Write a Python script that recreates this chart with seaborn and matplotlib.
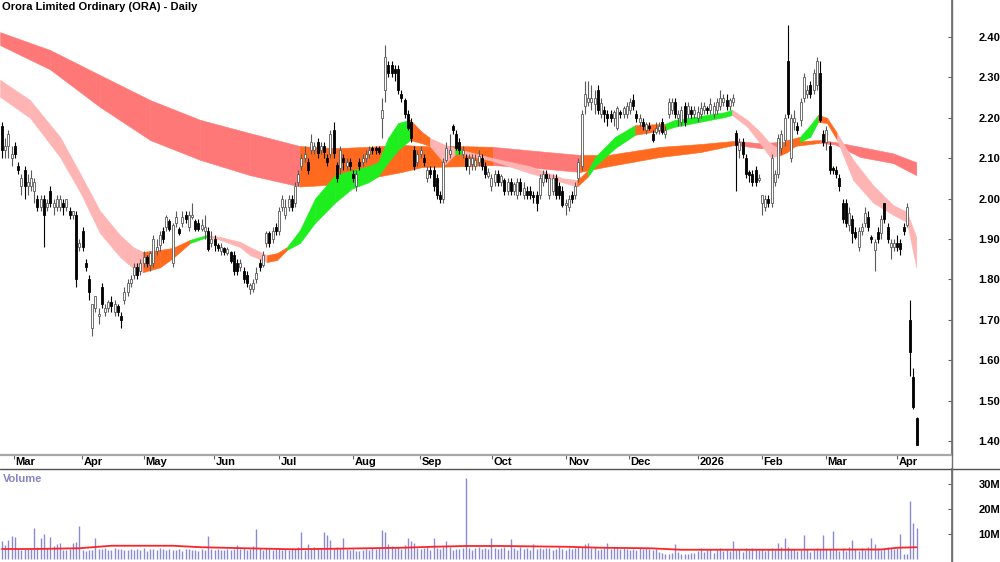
import numpy as np
import matplotlib
matplotlib.use("Agg")
import matplotlib.pyplot as plt
from matplotlib.lines import Line2D
import seaborn as sns

sns.set_theme(style="white")
plt.rcParams['font.family'] = ['Liberation Sans', 'DejaVu Sans']

title = "Orora Limited Ordinary (ORA) - Daily"

# ---------------- daily OHLC (A$) ----------------
opens = [2.18,2.12,2.13,2.10,2.13,2.08,2.03,2.07,2.03,2.03,
         2.02,2.00,1.98,2.00,1.98,2.02,1.98,1.98,1.98,1.99,
         1.98,1.97,1.96,1.96,1.88,1.92,1.84,1.80,1.68,1.73,
         1.71,1.78,1.72,1.73,1.745,1.72,1.735,1.71,1.75,1.77,
         1.79,1.81,1.83,1.82,1.84,1.855,1.835,1.84,1.87,1.885,
         1.92,1.93,1.945,1.84,1.94,1.925,1.94,1.96,1.93,1.955,
         1.945,1.94,1.925,1.92,1.92,1.89,1.90,1.885,1.87,1.877,
         1.865,1.868,1.86,1.84,1.83,1.82,1.81,1.775,1.775,1.80,
         1.84,1.835,1.89,1.915,1.90,1.93,1.92,1.98,1.96,1.98,
         2.00,1.99,2.04,2.08,2.10,2.09,2.12,2.12,2.14,2.12,
         2.13,2.10,2.11,2.17,2.083,2.075,2.10,2.08,2.09,2.06,
         2.03,2.09,2.09,2.10,2.11,2.125,2.125,2.125,2.20,2.27,
         2.33,2.33,2.32,2.32,2.26,2.244,2.21,2.19,2.12,2.09,
         2.11,2.10,2.05,2.07,2.07,2.05,2.01,2.00,2.095,2.11,
         2.18,2.16,2.14,2.11,2.10,2.08,2.085,2.08,2.09,2.10,
         2.08,2.055,2.03,2.04,2.06,2.04,2.046,2.02,2.04,2.02,
         2.01,2.04,2.01,2.02,2.02,2.01,2.01,2.01,2.04,2.06,
         2.01,2.02,2.05,2.03,2.02,1.985,1.98,2.01,2.01,2.05,
         2.08,2.23,2.24,2.24,2.235,2.27,2.21,2.22,2.21,2.21,
         2.20,2.175,2.215,2.21,2.21,2.22,2.244,2.21,2.19,2.19,
         2.17,2.18,2.16,2.165,2.17,2.19,2.16,2.21,2.22,2.24,
         2.20,2.19,2.23,2.21,2.22,2.21,2.20,2.21,2.22,2.225,
         2.22,2.21,2.22,2.23,2.24,2.244,2.23,2.24,2.163,2.12,
         2.14,2.10,2.065,2.06,2.07,2.045,1.99,1.98,2.00,1.99,
         2.04,2.06,2.125,2.145,2.34,2.10,2.19,2.18,2.195,2.25,
         2.26,2.28,2.27,2.28,2.31,2.16,2.14,2.13,2.075,2.07,
         2.05,1.99,1.99,1.935,1.95,1.917,1.88,1.92,1.94,1.955,
         1.905,1.873,1.917,1.915,1.99,1.93,1.88,1.88,1.89,1.89,
         1.93,1.935,1.70,1.558,1.457]
highs = [2.19,2.15,2.17,2.13,2.14,2.09,2.06,2.08,2.06,2.07,
         2.05,2.01,2.01,2.01,2.00,2.03,2.00,2.01,2.01,2.00,
         2.00,1.98,1.97,1.97,1.90,1.93,1.85,1.81,1.74,1.76,
         1.73,1.79,1.74,1.75,1.76,1.75,1.74,1.72,1.78,1.80,
         1.81,1.84,1.84,1.85,1.87,1.86,1.87,1.91,1.90,1.92,
         1.93,1.96,1.95,1.94,1.97,1.93,1.97,1.97,1.97,1.99,
         1.95,1.95,1.95,1.96,1.93,1.92,1.91,1.89,1.89,1.88,
         1.88,1.87,1.87,1.85,1.85,1.83,1.82,1.79,1.80,1.83,
         1.85,1.87,1.92,1.92,1.93,1.94,1.98,2.01,2.00,2.01,
         2.01,2.04,2.07,2.11,2.13,2.10,2.16,2.14,2.15,2.14,
         2.14,2.11,2.17,2.19,2.09,2.13,2.11,2.10,2.10,2.07,
         2.07,2.10,2.11,2.12,2.13,2.13,2.13,2.13,2.25,2.38,
         2.34,2.34,2.33,2.33,2.27,2.25,2.22,2.20,2.13,2.12,
         2.13,2.11,2.08,2.08,2.08,2.06,2.02,2.10,2.14,2.16,
         2.185,2.17,2.15,2.13,2.11,2.11,2.11,2.11,2.12,2.11,
         2.09,2.075,2.06,2.07,2.07,2.06,2.05,2.05,2.05,2.04,
         2.05,2.05,2.04,2.03,2.03,2.02,2.02,2.06,2.07,2.07,
         2.06,2.06,2.06,2.04,2.03,2.00,2.01,2.02,2.04,2.10,
         2.22,2.29,2.29,2.28,2.27,2.28,2.25,2.23,2.22,2.22,
         2.22,2.23,2.22,2.23,2.24,2.25,2.26,2.22,2.21,2.20,
         2.19,2.19,2.17,2.19,2.19,2.20,2.18,2.25,2.25,2.25,
         2.22,2.23,2.24,2.24,2.23,2.23,2.23,2.24,2.24,2.23,
         2.25,2.24,2.25,2.27,2.26,2.26,2.25,2.26,2.17,2.15,
         2.15,2.11,2.07,2.07,2.08,2.06,2.01,2.01,2.01,2.11,
         2.07,2.16,2.17,2.21,2.43,2.21,2.22,2.19,2.25,2.31,
         2.28,2.29,2.32,2.35,2.34,2.17,2.18,2.14,2.08,2.08,
         2.06,2.00,2.00,1.98,1.96,1.93,1.93,1.94,1.98,1.97,
         1.91,1.90,1.93,1.96,1.99,1.94,1.90,1.90,1.91,1.90,
         1.94,1.99,1.75,1.58,1.46]
lows = [2.10,2.10,2.10,2.08,2.10,2.06,2.01,2.00,2.01,2.02,
        1.99,1.97,1.97,1.88,1.97,1.98,1.96,1.97,1.97,1.96,
        1.97,1.95,1.95,1.78,1.87,1.87,1.82,1.75,1.66,1.72,
        1.69,1.73,1.71,1.72,1.72,1.71,1.71,1.68,1.74,1.76,
        1.78,1.80,1.80,1.81,1.83,1.83,1.82,1.83,1.86,1.87,
        1.89,1.92,1.92,1.83,1.93,1.91,1.93,1.94,1.92,1.95,
        1.92,1.92,1.92,1.90,1.87,1.88,1.87,1.87,1.86,1.86,
        1.86,1.84,1.81,1.81,1.82,1.79,1.78,1.765,1.77,1.79,
        1.82,1.83,1.88,1.88,1.89,1.91,1.91,1.97,1.95,1.97,
        1.97,1.98,2.03,2.07,2.09,2.06,2.11,2.11,2.10,2.11,
        2.10,2.08,2.10,2.10,2.04,2.06,2.07,2.07,2.07,2.04,
        2.02,2.07,2.08,2.09,2.10,2.11,2.11,2.11,2.15,2.24,
        2.30,2.30,2.29,2.26,2.24,2.20,2.17,2.14,2.07,2.08,
        2.10,2.08,2.04,2.05,2.02,2.00,1.99,1.99,2.09,2.10,
        2.16,2.12,2.11,2.10,2.07,2.06,2.07,2.07,2.08,2.07,
        2.05,2.05,2.02,2.03,2.03,2.03,2.01,2.01,2.01,2.01,
        2.00,2.01,2.00,2.00,2.00,1.99,1.97,2.00,2.03,2.04,
        2.00,2.01,2.00,2.00,1.98,1.96,1.97,1.99,2.00,2.04,
        2.07,2.21,2.23,2.22,2.21,2.21,2.20,2.19,2.18,2.19,
        2.18,2.17,2.20,2.20,2.20,2.21,2.22,2.19,2.18,2.17,
        2.16,2.17,2.14,2.16,2.16,2.16,2.15,2.20,2.21,2.20,
        2.18,2.18,2.18,2.20,2.20,2.20,2.19,2.20,2.21,2.21,
        2.21,2.20,2.21,2.22,2.23,2.22,2.22,2.23,2.02,2.10,
        2.10,2.05,2.04,2.03,2.03,2.04,1.96,1.97,1.98,1.98,
        2.03,2.05,2.11,2.13,2.20,2.09,2.17,2.16,2.18,2.24,
        2.25,2.25,2.26,2.27,2.19,2.13,2.12,2.06,2.06,2.05,
        2.02,1.94,1.93,1.92,1.89,1.90,1.87,1.91,1.93,1.92,
        1.89,1.82,1.89,1.90,1.94,1.89,1.85,1.87,1.87,1.86,
        1.91,1.93,1.56,1.48,1.39]
closes = [2.12,2.13,2.16,2.11,2.11,2.07,2.05,2.03,2.04,2.05,
          2.04,1.98,2.00,1.96,1.99,1.99,1.99,2.00,2.00,1.98,
          2.00,1.96,1.97,1.80,1.89,1.88,1.83,1.77,1.74,1.76,
          1.71,1.74,1.73,1.745,1.735,1.74,1.72,1.70,1.77,1.79,
          1.80,1.83,1.81,1.84,1.855,1.84,1.865,1.90,1.88,1.91,
          1.90,1.955,1.925,1.935,1.955,1.915,1.955,1.95,1.96,1.96,
          1.925,1.925,1.935,1.93,1.875,1.90,1.885,1.878,1.88,1.868,
          1.875,1.845,1.82,1.82,1.84,1.80,1.79,1.785,1.79,1.815,
          1.83,1.86,1.915,1.89,1.92,1.92,1.97,2.00,1.98,2.00,
          1.98,2.03,2.06,2.10,2.11,2.07,2.14,2.13,2.113,2.13,
          2.115,2.09,2.16,2.113,2.05,2.12,2.09,2.09,2.08,2.05,
          2.06,2.08,2.10,2.11,2.12,2.12,2.12,2.115,2.22,2.35,
          2.31,2.31,2.31,2.27,2.25,2.21,2.175,2.15,2.08,2.11,
          2.12,2.09,2.07,2.06,2.03,2.01,2.00,2.09,2.125,2.12,
          2.17,2.125,2.12,2.12,2.08,2.10,2.10,2.095,2.105,2.08,
          2.06,2.065,2.05,2.06,2.04,2.055,2.02,2.04,2.02,2.035,
          2.04,2.02,2.025,2.01,2.01,2.005,1.99,2.05,2.06,2.05,
          2.05,2.05,2.01,2.01,1.985,1.99,2.00,2.00,2.03,2.09,
          2.21,2.26,2.25,2.25,2.25,2.22,2.236,2.21,2.20,2.20,
          2.215,2.225,2.21,2.225,2.23,2.24,2.23,2.20,2.20,2.18,
          2.185,2.175,2.145,2.175,2.18,2.165,2.17,2.24,2.24,2.21,
          2.21,2.22,2.19,2.23,2.21,2.22,2.215,2.225,2.23,2.22,
          2.235,2.23,2.24,2.25,2.25,2.23,2.245,2.25,2.133,2.14,
          2.11,2.06,2.058,2.04,2.04,2.05,2.01,2.00,1.99,2.10,
          2.06,2.15,2.16,2.20,2.21,2.20,2.20,2.17,2.24,2.30,
          2.27,2.26,2.31,2.34,2.195,2.14,2.17,2.07,2.07,2.06,
          2.03,1.95,1.94,1.965,1.915,1.905,1.92,1.93,1.965,1.93,
          1.90,1.893,1.90,1.95,1.95,1.90,1.89,1.89,1.88,1.875,
          1.92,1.98,1.62,1.484,1.39]

# ---------------- daily volume (millions) ----------------
volume_m = [7.3,5.6,7.6,9.2,8.9,4.0,3.8,4.2,3.9,4.1,
            12.3,4.7,8.3,9.9,4.6,8.9,5.4,6.0,6.5,3.5,
            3.6,4.2,6.3,6.9,13.2,3.6,3.4,3.8,3.5,8.4,
            4.2,3.9,4.3,3.8,3.6,4.4,3.9,4.0,3.5,3.8,
            4.1,3.6,4.2,3.8,4.5,3.4,3.9,4.0,3.6,4.3,
            4.0,3.7,4.2,3.5,3.8,4.1,3.3,3.9,4.2,3.6,
            3.8,3.4,4.0,3.7,9.2,3.9,3.6,4.1,3.5,3.8,
            4.0,3.6,4.2,5.5,3.9,4.4,3.7,4.1,5.2,12.0,
            4.3,3.8,4.5,4.0,3.6,4.2,3.9,3.5,4.1,3.7,
            4.6,4.0,5.0,10.9,3.8,6.0,4.2,4.8,4.4,4.0,
            10.9,9.5,7.6,4.3,5.0,4.6,8.3,4.1,3.7,3.9,
            3.2,3.4,3.6,4.1,3.8,4.5,4.0,4.4,11.6,10.9,
            6.0,5.2,4.6,4.8,4.2,5.5,8.3,7.3,6.5,4.6,
            4.1,4.4,4.9,3.8,8.4,4.5,4.2,5.0,7.3,4.8,
            3.6,4.1,3.9,4.6,32.5,4.3,3.7,4.5,4.8,4.1,
            4.4,3.9,8.4,4.6,4.0,4.3,4.7,3.8,7.9,4.5,
            3.6,4.9,4.2,4.4,3.5,5.9,4.1,4.6,3.9,4.3,
            4.5,3.7,4.0,4.8,4.2,3.6,4.4,3.9,4.5,4.7,
            4.8,6.2,6.3,4.4,4.9,3.8,4.1,4.6,6.6,4.2,
            5.0,4.3,3.9,4.5,4.0,3.7,4.2,3.8,4.4,4.1,
            4.6,3.9,3.5,4.2,3.0,2.6,2.2,2.0,2.4,6.1,
            2.8,2.2,1.9,2.1,2.5,2.3,3.4,4.5,2.8,3.6,
            4.2,2.6,3.8,4.6,3.1,4.0,3.3,7.3,3.5,4.1,
            3.0,4.4,3.6,4.6,4.2,3.8,4.1,3.2,3.9,4.4,
            3.6,6.5,4.9,8.3,4.8,3.9,4.2,3.1,3.7,9.5,
            4.2,2.8,3.6,4.5,4.0,9.6,4.1,3.9,11.2,4.2,
            3.4,4.6,3.3,4.8,7.6,3.9,3.2,4.4,3.6,4.9,
            8.3,5.9,4.3,3.7,4.2,4.8,4.5,3.9,4.4,10.0,
            2.0,2.1,23.3,14.5,12.3]

# volume moving average (read at sample bars)
vol_ma_bar = [0, 10, 24, 34, 53, 62, 72, 90, 103, 124, 134, 144, 155, 175, 186, 201, 211, 240, 273, 278, 284]
vol_ma_m   = [4.0, 4.0, 4.3, 5.3, 5.3, 4.7, 4.4, 3.9, 4.1, 4.5, 4.9, 5.2, 5.2, 4.9, 4.5, 4.3, 3.7, 3.7, 3.8, 4.5, 4.7]

# ---------------- long-term MA ribbon (sample bars) ----------------
long_bar = [-0.6, 14.9, 30.4, 46, 61.5, 77, 92.5, 103.4, 113.7, 124.2, 130.4, 142.2, 152.5, 167, 179.5,
            188.2, 204.3, 216.8, 227.6, 235.4, 241, 247.8, 254, 258.7, 266.5, 276.7, 283.9]
long_top = [2.412, 2.368, 2.306, 2.244, 2.195, 2.162, 2.13, 2.125, 2.128, 2.133, 2.13, 2.13, 2.128, 2.117, 2.108,
            2.108, 2.128, 2.135, 2.143, 2.137, 2.14, 2.142, 2.145, 2.14, 2.128, 2.112, 2.09]
long_bot = [2.38, 2.32, 2.227, 2.145, 2.096, 2.058, 2.03, 2.035, 2.05, 2.066, 2.078, 2.08, 2.083, 2.075, 2.066,
            2.08, 2.103, 2.115, 2.133, 2.125, 2.125, 2.132, 2.138, 2.134, 2.103, 2.088, 2.058]
long_state = ["bear", "bear", "bear", "bear", "bear", "bear", "bull", "bull", "bull", "bull", "bull", "bull",
              "bear", "bear", "bull", "bull", "bull", "bull", "bear", "bear", "bull", "bull", "bear", "bear",
              "bear", "bear", "bear"]

# ---------------- short-term MA ribbon (sample bars) ----------------
short_bar = [-0.6, 8.7, 18, 24.2, 30.4, 36.6, 40.7, 43.8, 49.1, 53.1, 58.4, 63.7, 67.7, 73.9, 77, 82.3, 85.4,
             88.5, 92.5, 97.2, 103.4, 108.7, 113.7, 116.8, 119.9, 123, 126.7, 130.4, 132.9, 137.6, 140.7, 142.9,
             152.5, 164, 174.2, 178.6, 182, 184.2, 190.4, 196.6, 205.9, 209, 224.5, 226.7, 231.4, 235.4, 238.5,
             241, 243.8, 247.8, 251, 253.4, 256.2, 259.3, 264.3, 270.5, 276.7, 281, 283.9]
short_top = [2.294, 2.244, 2.153, 2.063, 1.97, 1.91, 1.88, 1.868, 1.873, 1.878, 1.898, 1.91, 1.905, 1.893, 1.88,
             1.86, 1.865, 1.88, 1.922, 2.0, 2.058, 2.07, 2.08, 2.09, 2.15, 2.187, 2.195, 2.165, 2.15, 2.133,
             2.125, 2.12, 2.10, 2.08, 2.05, 2.046, 2.07, 2.103, 2.153, 2.182, 2.185, 2.195, 2.214, 2.22, 2.195,
             2.165, 2.137, 2.125, 2.145, 2.153, 2.182, 2.207, 2.2, 2.162, 2.096, 2.033, 1.984, 1.967, 1.905]
short_bot = [2.252, 2.20, 2.103, 2.017, 1.915, 1.856, 1.828, 1.818, 1.83, 1.853, 1.89, 1.905, 1.898, 1.88, 1.86,
             1.843, 1.848, 1.873, 1.89, 1.94, 1.99, 2.025, 2.04, 2.055, 2.09, 2.12, 2.145, 2.137, 2.13, 2.085,
             2.11, 2.11, 2.093, 2.063, 2.04, 2.03, 2.055, 2.08, 2.125, 2.158, 2.17, 2.178, 2.202, 2.207, 2.178,
             2.137, 2.103, 2.105, 2.115, 2.14, 2.153, 2.19, 2.187, 2.145, 2.046, 1.99, 1.96, 1.942, 1.83]
short_state = ["bear", "bear", "bear", "bear", "bear", "bear", "bear", "mixed", "mixed", "mixed", "bull", "bear",
               "bear", "bear", "bear", "mixed", "mixed", "bull", "bull", "bull", "bull", "bull", "bull", "bull",
               "bull", "bull", "mixed", "mixed", "bear", "bear", "bull", "bear", "bear", "bear", "bear", "mixed",
               "bull", "bull", "bull", "mixed", "bull", "bull", "bull", "bear", "bear", "bear", "bear", "mixed",
               "mixed", "bull", "bull", "mixed", "mixed", "bear", "bear", "bear", "bear", "bear", "bear"]

month_labels = ["Mar", "Apr", "May", "Jun", "Jul", "Aug", "Sep", "Oct", "Nov", "Dec", "2026", "Feb", "Mar", "Apr"]
month_start_bar = [3.7, 24.8, 44.1, 65.8, 86, 109, 129.8, 152.2, 175.2, 194.7, 216.1, 236, 255.9, 278]

price_ticks = [1.40, 1.50, 1.60, 1.70, 1.80, 1.90, 2.00, 2.10, 2.20, 2.30, 2.40]
vol_ticks = [10, 20, 30]

# ---------------- styling ----------------
long_colors = {"bear": "#FF7878", "bull": "#FF6A1E"}
short_colors = {"bear": "#FFB4B4", "bull": "#1EEE1E", "mixed": "#FF6A1E"}
W, H = 1000, 562
x_left, x_right = -0.62, 295.0

fig = plt.figure(figsize=(W / 100, H / 100), dpi=100)
fig.patch.set_facecolor("white")
axp = fig.add_axes([0, (H - 455) / H, 952 / W, 455 / H])
axv = fig.add_axes([0, 0, 952 / W, (H - 469) / H])

O = np.array(opens); Hh = np.array(highs); Lw = np.array(lows); C = np.array(closes)
bars = np.arange(len(C))

def ribbon(ax, xs, tops, bots, states, cmap, z):
    for i in range(len(xs) - 1):
        col = cmap[states[i]]
        ax.fill_between([xs[i], xs[i + 1]], [bots[i], bots[i + 1]], [tops[i], tops[i + 1]],
                        facecolor=col, edgecolor=col, linewidth=0.4, zorder=z)

ribbon(axp, long_bar, long_top, long_bot, long_state, long_colors, 1)
ribbon(axp, short_bar, short_top, short_bot, short_state, short_colors, 2)

up = C >= O
edge = np.where(up, "#5A5A5A", "#000000")
axp.vlines(bars, Lw, Hh, colors=edge, linewidth=0.8, zorder=3)
axp.bar(bars, np.maximum(np.abs(C - O), 0.004), bottom=np.minimum(O, C), width=0.62,
        color=np.where(up, "white", "black"), edgecolor=edge, linewidth=0.6, zorder=4)

axp.set_xlim(x_left, x_right)
axp.set_ylim(1.3653, 2.4916)
axp.set_yticks(price_ticks)
axp.set_yticklabels([f"{v:.2f}" for v in price_ticks])
axp.yaxis.tick_right()
axp.tick_params(axis="y", direction="in", length=3, width=0.8, pad=19, labelsize=8, colors="#606060",
                labelcolor="black", right=True, left=False)
for t in axp.get_yticklabels():
    t.set_fontweight("bold")
axp.set_xticks(month_start_bar)
axp.set_xticklabels([])
axp.tick_params(axis="x", direction="out", length=3, width=0.8, colors="#606060", bottom=True)
for s in ["top", "left"]:
    axp.spines[s].set_visible(False)
axp.spines["right"].set_color("#707070")
axp.spines["bottom"].set_color("#A8A8A8")
axp.spines["bottom"].set_linewidth(1.6)
axp.set_facecolor("white")

for lab, pos in zip(month_labels, month_start_bar):
    axp.text(pos + 0.5, -0.0045, lab, transform=axp.get_xaxis_transform(), ha="left", va="top",
             fontsize=8, fontweight="bold", color="black")

# ---------------- volume ----------------
axv.vlines(bars, 0, volume_m, colors="#8A8AD2", linewidth=1.0, zorder=2)
sns.lineplot(x=vol_ma_bar, y=vol_ma_m, ax=axv, color="#FF2424", linewidth=1.3, zorder=3)
axv.set_xlim(x_left, x_right)
axv.set_ylim(-1.2, 36)
axv.set_yticks(vol_ticks)
axv.set_yticklabels([f"{v}M" for v in vol_ticks])
axv.yaxis.tick_right()
axv.tick_params(axis="y", direction="in", length=3, width=0.8, pad=19, labelsize=8, colors="#606060",
                labelcolor="black", right=True, left=False)
for t in axv.get_yticklabels():
    t.set_fontweight("bold")
axv.set_xticks([])
for s in ["top", "left", "bottom"]:
    axv.spines[s].set_visible(False)
axv.spines["right"].set_color("#707070")
axv.set_xlabel(""); axv.set_ylabel("")
axv.text(0.003, 0.95, "Volume", transform=axv.transAxes, ha="left", va="top", fontsize=8,
         fontweight="bold", color="#8585C5")

# frame lines
fig.add_artist(Line2D([0, 1], [(H - 469) / H] * 2, color="#505050", linewidth=1.0))
fig.add_artist(Line2D([952 / W] * 2, [0, 1], color="#707070", linewidth=1.0))

fig.text(2 / W, 1 - 2 / H, title, ha="left", va="top", fontsize=8, fontweight="bold", color="black")

fig.savefig("out.png", dpi=100, facecolor="white")
